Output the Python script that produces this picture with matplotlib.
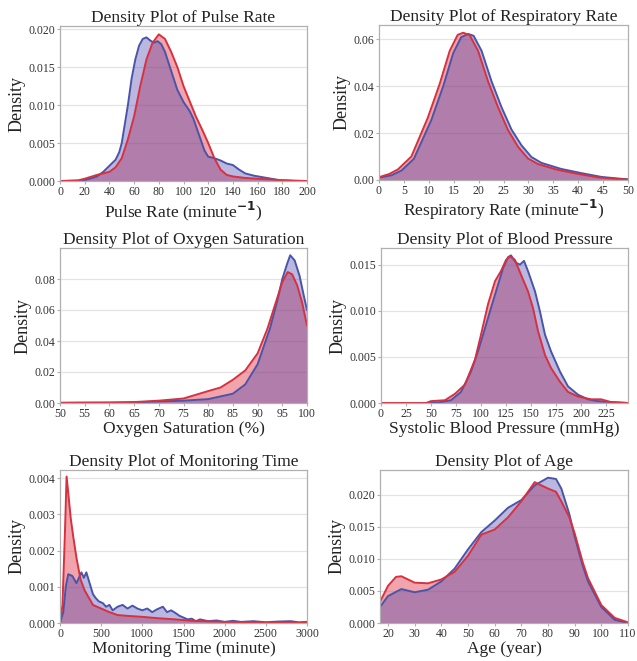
import matplotlib
matplotlib.use("Agg")
import matplotlib.pyplot as plt
from matplotlib.ticker import FormatStrFormatter

plt.rcParams['font.family'] = ['Liberation Serif', 'DejaVu Serif']

# ---- data: (x, density) for blue and red groups ----
pulse_x_b = [0, 15, 20, 30, 35, 40, 45, 48, 50, 52, 55, 58, 61, 64, 67, 70, 73, 76, 79, 82, 85, 88, 91, 95,
             100, 105, 108, 111, 114, 117, 120, 125, 130, 135, 140, 145, 150, 157, 167.5, 178, 190, 200]
pulse_y_b = [0, 0, 0.0001, 0.0006, 0.0012, 0.0020, 0.0028, 0.0038, 0.0050, 0.0070, 0.0100, 0.0135, 0.0160,
             0.0178, 0.0187, 0.0189, 0.0185, 0.0182, 0.0184, 0.0180, 0.0170, 0.0155, 0.0140, 0.0120, 0.0104,
             0.0092, 0.0082, 0.0068, 0.0054, 0.0040, 0.0032, 0.0030, 0.0027, 0.0023, 0.0021, 0.0015, 0.0010,
             0.0007, 0.0004, 0.0001, 0.00003, 0]
pulse_x_r = [0, 15, 20, 30, 40, 45, 50, 55, 60, 65, 70, 75, 80, 85, 90, 95, 100, 105, 110, 115, 120, 125,
             130, 135, 140, 150, 160, 170, 180, 190, 200]
pulse_y_r = [0, 0.0001, 0.0003, 0.0008, 0.0012, 0.0018, 0.0030, 0.0055, 0.0085, 0.0125, 0.0160, 0.0182,
             0.0193, 0.0187, 0.0170, 0.0150, 0.0125, 0.0105, 0.0085, 0.0068, 0.0050, 0.0030, 0.0015, 0.0008,
             0.0006, 0.0004, 0.0003, 0.0002, 0.0001, 0.00003, 0]

resp_x_b = [0, 2.5, 4.5, 7, 10.5, 12.9, 14.9, 16.5, 17.9, 19, 20.6, 22.6, 24.6, 26.6, 28.6, 30.6, 32.6, 36.6,
            40.7, 44.7, 48.7, 50]
resp_y_b = [0.001, 0.002, 0.004, 0.0090, 0.0255, 0.040, 0.054, 0.0608, 0.0622, 0.0614, 0.055, 0.042,
            0.031, 0.0215, 0.0148, 0.0098, 0.0073, 0.0047, 0.0029, 0.0013, 0.0005, 0.0003]
resp_x_r = [0, 2, 3.8, 6.5, 9.8, 12.2, 14.2, 15.8, 16.9, 18.2, 19.9, 21.9, 23.9, 25.9, 27.9, 29.9, 31.9,
            35.9, 40, 44, 48, 50]
resp_y_r = [0.0012, 0.0025, 0.0045, 0.0100, 0.0265, 0.041, 0.055, 0.0618, 0.0627, 0.0617, 0.055, 0.042,
            0.031, 0.0213, 0.0142, 0.0092, 0.0068, 0.0043, 0.0026, 0.0011, 0.0004, 0.0002]

oxy_x_b = [50, 55, 60, 65, 70, 75, 80, 85, 87.5, 90, 92.5, 94, 95, 96, 96.6, 97.5, 98.5, 99.3, 100]
oxy_y_b = [0.0001, 0.0002, 0.0002, 0.0004, 0.001, 0.0015, 0.0025, 0.006, 0.012, 0.025, 0.048, 0.066,
           0.080, 0.090, 0.0953, 0.092, 0.082, 0.070, 0.060]
oxy_x_r = [50, 55, 60, 65, 70, 75, 80, 82.5, 85, 87.5, 90, 92, 94, 95, 96.1, 97, 98, 99, 100]
oxy_y_r = [0.0001, 0.0002, 0.0003, 0.0006, 0.0015, 0.0029, 0.0077, 0.010, 0.015, 0.021, 0.032, 0.048,
           0.068, 0.078, 0.0845, 0.083, 0.076, 0.065, 0.050]

bp_x_b = [0, 50, 60, 70, 80, 90, 97, 104, 110, 117, 122, 127, 130, 135, 139, 143, 147, 154, 159, 164, 170,
          179, 187, 197, 207, 217, 230, 247]
bp_y_b = [0, 0, 0.0001, 0.0003, 0.0012, 0.0034, 0.0056, 0.0081, 0.0103, 0.0128, 0.0146, 0.0158, 0.0160,
          0.0152, 0.0150, 0.0154, 0.0143, 0.0121, 0.0099, 0.0074, 0.0056, 0.0034, 0.0018, 0.0009, 0.0004,
          0.0002, 0.0001, 0]
bp_x_r = [0, 45, 50, 64, 74, 84, 94, 100, 107, 114, 120, 125, 129, 134, 140, 147, 152, 157, 164, 170, 179,
          187, 197, 210, 220, 230, 247]
bp_y_r = [0, 0, 0.0002, 0.0003, 0.0010, 0.0020, 0.0047, 0.0074, 0.0107, 0.0132, 0.0143, 0.0155, 0.0159,
          0.0155, 0.0139, 0.0121, 0.0103, 0.0078, 0.0052, 0.0038, 0.0023, 0.0012, 0.0007, 0.0004, 0.0004,
          0.0001, 0]

mon_x_b = [0, 40, 70, 100, 150, 200, 230, 260, 290, 320, 360, 400, 430, 470, 520, 560, 600, 640, 700, 760,
           820, 880, 940, 1000, 1060, 1120, 1180, 1250, 1300, 1350, 1400, 1450, 1500, 1550, 1600, 1650, 1700,
           1800, 1900, 2000, 2100, 2200, 2350, 2500, 2650, 2800, 2900, 3000]
mon_y_b = [0, 0.0003, 0.0010, 0.00135, 0.0013, 0.0011, 0.00125, 0.0014, 0.00125, 0.0014, 0.0011, 0.0008,
           0.0007, 0.0006, 0.00055, 0.00045, 0.0005, 0.00035, 0.00045, 0.0005, 0.0004, 0.00048, 0.0004,
           0.00035, 0.0004, 0.0003, 0.00038, 0.00045, 0.0003, 0.00035, 0.00028, 0.0002, 0.00015, 0.0001,
           0.00012, 0.00005, 0.0001, 0.00005, 0.00007, 0.00003, 0.00006, 0.00003, 0.00005, 0.00002, 0.00004,
           0.00005, 0.00002, 0.00003]
mon_x_r = [0, 30, 60, 80, 100, 130, 160, 200, 250, 300, 350, 400, 500, 600, 700, 800, 1000, 1200, 1400,
           1600, 2000, 2500, 3000]
mon_y_r = [0, 0.0005, 0.0025, 0.00405, 0.0036, 0.0029, 0.0024, 0.0018, 0.0012, 0.0009, 0.0007, 0.0005,
           0.0004, 0.0003, 0.00022, 0.0002, 0.00017, 0.00013, 0.0001, 0.00006, 0.00003, 0.00001, 0]

age_x_b = [17, 20, 25, 30, 35, 40, 45, 50, 55, 60, 65, 70, 75, 80, 83, 85, 88, 90, 93, 95, 100, 105, 110]
age_y_b = [0.0025, 0.0042, 0.0053, 0.0048, 0.0052, 0.0065, 0.0085, 0.0115, 0.0142, 0.0160, 0.0180, 0.0192,
           0.0215, 0.0227, 0.0225, 0.0210, 0.0170, 0.0135, 0.0090, 0.0065, 0.0025, 0.0005, 0]
age_x_r = [17, 20, 23, 25, 30, 35, 40, 45, 50, 55, 60, 65, 70, 75, 80, 83, 85, 88, 90, 93, 95, 100, 105, 110]
age_y_r = [0.0033, 0.0058, 0.0072, 0.0073, 0.0063, 0.0062, 0.0068, 0.0080, 0.0105, 0.0138, 0.0146, 0.0165,
           0.0190, 0.0220, 0.0210, 0.0205, 0.0190, 0.0165, 0.0140, 0.0095, 0.0070, 0.0028, 0.0008, 0.0001]

titles = ["Density Plot of Pulse Rate", "Density Plot of Respiratory Rate",
          "Density Plot of Oxygen Saturation", "Density Plot of Blood Pressure",
          "Density Plot of Monitoring Time", "Density Plot of Age"]
xlabels = [r"Pulse Rate (minute$^{\mathbf{-1}}$)", r"Respiratory Rate (minute$^{\mathbf{-1}}$)",
           "Oxygen Saturation (%)", "Systolic Blood Pressure (mmHg)",
           "Monitoring Time (minute)", "Age (year)"]


def main():
    W, H = 637, 661
    fig = plt.figure(figsize=(W / 100, H / 100), dpi=100)

    # pixel boxes: left, right, top, bottom
    boxes = [(60, 307, 26, 181), (379, 628, 25, 180),
             (60, 307, 248, 403), (381, 628, 248, 403),
             (60, 307, 470, 623), (380, 628, 470, 623)]
    data = [(pulse_x_b, pulse_y_b, pulse_x_r, pulse_y_r),
            (resp_x_b, resp_y_b, resp_x_r, resp_y_r),
            (oxy_x_b, oxy_y_b, oxy_x_r, oxy_y_r),
            (bp_x_b, bp_y_b, bp_x_r, bp_y_r),
            (mon_x_b, mon_y_b, mon_x_r, mon_y_r),
            (age_x_b, age_y_b, age_x_r, age_y_r)]
    xlims = [(0, 200), (0, 50), (50, 100), (0, 247), (0, 3000), (17, 110)]
    ylims = [0.0204, 0.066, 0.100, 0.0168, 0.00423, 0.0239]
    xticks = [range(0, 201, 20), range(0, 51, 5), range(50, 101, 5),
              range(0, 226, 25), range(0, 3001, 500), range(20, 111, 10)]
    yticks = [[0, 0.005, 0.01, 0.015, 0.02], [0, 0.02, 0.04, 0.06],
              [0, 0.02, 0.04, 0.06, 0.08], [0, 0.005, 0.01, 0.015],
              [0, 0.001, 0.002, 0.003, 0.004], [0, 0.005, 0.01, 0.015, 0.02]]
    yfmt = ['%.3f', '%.2f', '%.2f', '%.3f', '%.3f', '%.3f']

    red_fill, blue_fill = '#e44a58', '#4038aa'
    red_line, blue_line = '#d8303f', '#4a54a8'

    for i in range(6):
        l, r, t, b = boxes[i]
        ax = fig.add_axes([l / W, 1 - b / H, (r - l) / W, (b - t) / H])
        xb, yb, xr, yr = data[i]
        ax.fill_between(xr, yr, 0, color=red_fill, alpha=0.5, lw=0)
        ax.fill_between(xb, yb, 0, color=blue_fill, alpha=0.36, lw=0)
        ax.plot(xb, yb, color=blue_line, lw=1.4)
        ax.plot(xr, yr, color=red_line, lw=1.4)

        ax.set_xlim(*xlims[i])
        ax.set_ylim(0, ylims[i])
        ax.set_xticks(list(xticks[i]))
        ax.set_yticks(yticks[i])
        ax.yaxis.set_major_formatter(FormatStrFormatter(yfmt[i]))
        ax.grid(axis='y', color='#e4e4e4', lw=0.9)
        ax.set_axisbelow(True)
        for s in ax.spines.values():
            s.set_color('#b0b0b0')
            s.set_linewidth(0.9)
        ax.tick_params(labelsize=8.5, length=2, color='#b0b0b0', labelcolor='#333333', pad=1.5)

        ax.set_title(titles[i], fontsize=12.5, color='#222222', pad=3)
        ax.set_xlabel(xlabels[i], fontsize=12.5, color='#222222', labelpad=1)
        ax.set_ylabel("Density", fontsize=13, color='#222222', labelpad=2)

    fig.savefig("out.png", dpi=100)


if __name__ == '__main__':
    main()
